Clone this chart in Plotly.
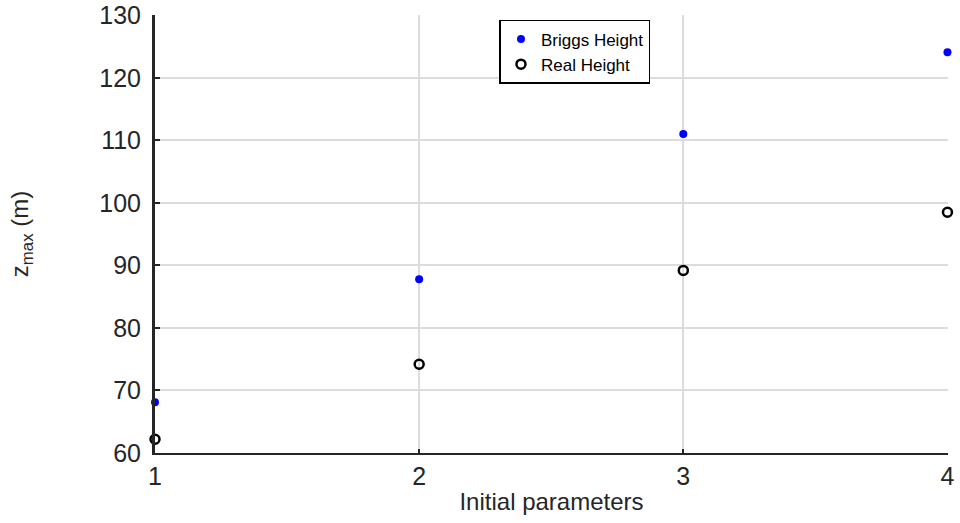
import plotly.graph_objects as go

x_vals = [1, 2, 3, 4]
briggs_height = [68.1, 87.8, 111.0, 124.1]
real_height = [62.2, 74.2, 89.2, 98.5]
y_ticks = [60, 70, 80, 90, 100, 110, 120, 130]
x_ticks = [1, 2, 3, 4]

FONT = "Liberation Sans, Arial, sans-serif"
DARK = "#262626"

fig = go.Figure()
fig.add_trace(go.Scatter(x=x_vals, y=briggs_height, mode="markers", name="Briggs Height",
                         cliponaxis=False,
                         marker=dict(color="#0000ff", size=8, symbol="circle")))
fig.add_trace(go.Scatter(x=x_vals, y=real_height, mode="markers", name="Real Height",
                         cliponaxis=False,
                         marker=dict(color="black", size=9, symbol="circle-open", line=dict(width=2.5))))

fig.update_layout(
    width=960, height=523,
    margin=dict(l=155, r=12, t=15, b=70, autoexpand=False),
    paper_bgcolor="white", plot_bgcolor="white",
    font=dict(family=FONT, color=DARK, size=25),
    showlegend=True,
    legend=dict(x=0.5296, y=0.9886, xanchor="center", yanchor="top",
                bgcolor="white", bordercolor="black", borderwidth=1.5,
                font=dict(size=17, color="black"), itemwidth=30,
                tracegroupgap=0),
    xaxis=dict(range=[1, 4.002], tickvals=x_ticks, showgrid=True, gridcolor="#dcdcdc", gridwidth=2,
               showline=True, linecolor=DARK, linewidth=2, ticks="inside", ticklen=4,
               tickcolor=DARK, tickwidth=2, zeroline=False, automargin=False,
               ticklabeloverflow="allow",
               tickfont=dict(size=25, color=DARK),
               title=dict(text="Initial parameters", font=dict(size=24, color=DARK), standoff=4)),
    yaxis=dict(range=[60, 130.05], tickvals=y_ticks, showgrid=True, gridcolor="#dcdcdc", gridwidth=2,
               showline=True, linecolor=DARK, linewidth=3, ticks="inside", ticklen=5,
               tickcolor=DARK, tickwidth=2, zeroline=False, automargin=False,
               ticklabelstandoff=6, ticklabeloverflow="allow",
               tickfont=dict(size=25, color=DARK),
               title=dict(text="z<sub>max</sub> (m)", font=dict(size=24, color=DARK), standoff=64)),
)

# remove the default 8px page margin so the figure fills the 960x523 window exactly
fig.write_html("out.html",
               config={"displayModeBar": False},
               post_script="document.body.style.margin='0';document.body.style.overflow='hidden';")
